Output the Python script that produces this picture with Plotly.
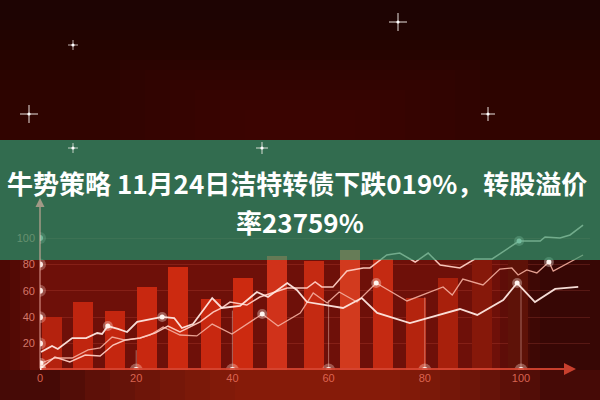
import plotly.graph_objects as go

# ---------------- data ----------------
bar_x = [2.5, 8.9, 15.6, 22.2, 28.7, 35.6, 42.2, 49.3, 57.0, 64.4, 71.3, 78.2, 84.8, 91.9, 99.4]
bar_h = [40.2, 51.5, 44.7, 62.9, 78.0, 53.8, 69.7, 86.4, 82.6, 90.9, 84.0, 54.5, 69.7, 83.0, 83.0]
bar_colors = ["#b4220e", "#c0250f", "#c4260f", "#c82810", "#cc2a10", "#c82810", "#cc2a10", "#d0321a",
              "#c42a12", "#d23a1e", "#c42a12", "#b4240e", "#a8200c", "#86180a", "#5e1208"]

line_x_x = [0.2, 2.5, 3.7, 6.7, 9.6, 11.9, 12.9, 14.1, 16.2, 18.1, 20.2, 25.4, 27.9, 29.5, 31.8, 35.8,
            37.8, 41.6, 45.1, 47.4, 51.4, 53.4, 55.5, 63.0, 66.9, 70.1, 76.9, 80.5, 87.3, 90.9, 96.3,
            99.2, 102.9, 107.1, 111.9]
line_x_y = [13.6, 18.2, 15.9, 24.2, 24.2, 28.0, 27.3, 33.3, 31.1, 28.8, 36.4, 40.2, 39.4, 31.8, 34.8, 54.5,
            47.0, 48.5, 59.1, 55.3, 65.9, 60.6, 51.5, 47.0, 54.5, 43.2, 35.6, 39.4, 46.2, 41.7, 53.0,
            65.9, 51.5, 61.4, 62.9]
line_x_dots = [0, 0, 0, 0, 0, 0, 0, 1, 0, 0, 0, 1, 0, 0, 0, 0,
               0, 0, 0, 0, 0, 0, 0, 0, 0, 0, 0, 0, 0, 0, 0,
               1, 0, 0, 0]

line_y_x = [0.2, 3.1, 6.2, 9.4, 12.5, 15.2, 17.7, 20.8, 23.9, 26.6, 29.1, 33.3, 36.0, 37.8, 39.5, 43.0,
            45.7, 51.4, 55.5, 57.2, 58.6, 60.9, 63.8, 67.2, 68.6, 71.1, 72.1, 74.8, 78.0, 80.7, 83.2,
            87.3, 90.4, 94.0, 99.6, 104.0, 105.0, 108.1, 110.2, 112.9]
line_y_y = [1.5, 9.8, 6.1, 11.4, 10.6, 18.9, 22.7, 24.2, 28.0, 33.3, 28.8, 36.4, 43.9, 47.0, 51.5, 49.2,
            55.3, 62.1, 62.1, 66.7, 62.9, 62.9, 75.0, 77.3, 77.3, 84.8, 87.1, 88.6, 81.8, 88.6, 79.5,
            77.3, 84.1, 84.1, 97.7, 97.7, 100.8, 100.0, 102.3, 109.8]
line_y_dots = [1] + [0] * 33 + [1] + [0] * 5

line_z_x = [0.2, 3.1, 6.7, 10.0, 12.5, 15.0, 17.7, 20.8, 22.9, 25.6, 29.1, 32.6, 35.8, 39.9, 46.2, 49.5,
            54.1, 56.8, 59.7, 62.2, 65.9, 69.9, 76.3, 83.8, 85.7, 87.9, 92.1, 95.6, 98.1, 99.4, 101.2,
            103.3, 105.8, 106.7, 112.9]
line_z_y = [5.3, 9.1, 9.1, 15.2, 16.7, 25.0, 22.7, 24.2, 26.5, 32.6, 26.5, 25.8, 34.8, 27.3, 42.4, 33.3,
            43.2, 58.3, 50.8, 59.1, 51.5, 65.9, 52.3, 62.9, 56.8, 68.9, 64.4, 76.5, 77.3, 72.0, 75.8,
            73.5, 81.8, 75.0, 87.1]
line_z_dots = [1] + [0] * 13 + [1] + [0] * 6 + [1] + [0] * 10 + [1, 0, 0]

y_ticks = [20, 40, 60, 80, 100]
y_ticktext = ["20", "40", "60", "80", "100"]
x_ticks = [0, 20, 40, 60, 80, 100]
x_ticktext = ["0", "20", "40", "60", "80", "100"]
drop_heights = [15, 45, 53, 55, 63]

title_line1 = "牛势策略 11月24日洁特转债下跌019%，转股溢价"
title_line2 = "率23759%"

# ---------------- geometry helpers (decoration only) ----------------
W, H = 600, 400
def px(x):
    return x / W
def py(y):
    return 1 - y / H

X_MAX = 550 / 4.81
Y_MAX = 370 / 1.32

fig = go.Figure()

# bars
fig.add_trace(go.Bar(x=bar_x, y=bar_h, width=4.2, marker=dict(color=bar_colors, line=dict(width=0)),
                     hoverinfo="skip", showlegend=False))

# drop lines from x ticks
for xt, hgt in zip(x_ticks[1:], drop_heights):
    fig.add_trace(go.Scatter(x=[xt, xt], y=[0, hgt], mode="lines",
                             line=dict(color="rgba(255,210,200,0.45)", width=1),
                             hoverinfo="skip", showlegend=False))

def add_line(xs, ys, dots, color, width):
    fig.add_trace(go.Scatter(x=xs, y=ys, mode="lines", line=dict(color=color, width=width),
                             hoverinfo="skip", showlegend=False))
    dx = [a for a, d in zip(xs, dots) if d]
    dy = [b for b, d in zip(ys, dots) if d]
    fig.add_trace(go.Scatter(x=dx, y=dy, mode="markers",
                             marker=dict(size=10, color="rgba(255,235,225,0.35)"),
                             hoverinfo="skip", showlegend=False))
    fig.add_trace(go.Scatter(x=dx, y=dy, mode="markers",
                             marker=dict(size=5, color="rgba(255,245,240,1)"),
                             hoverinfo="skip", showlegend=False))

add_line(line_z_x, line_z_y, line_z_dots, "rgba(245,175,160,0.9)", 1.3)
add_line(line_y_x, line_y_y, line_y_dots, "rgba(255,205,195,0.95)", 1.5)
add_line(line_x_x, line_x_y, line_x_dots, "rgba(255,232,225,0.95)", 1.8)

# glowing tick dots on the axes
fig.add_trace(go.Scatter(x=[0] * len(y_ticks), y=y_ticks, mode="markers",
                         marker=dict(size=12, color="rgba(255,220,210,0.3)"), hoverinfo="skip", showlegend=False))
fig.add_trace(go.Scatter(x=[0] * len(y_ticks), y=y_ticks, mode="markers",
                         marker=dict(size=6, color="rgba(255,240,235,0.95)"), hoverinfo="skip", showlegend=False))
fig.add_trace(go.Scatter(x=x_ticks, y=[0] * len(x_ticks), mode="markers",
                         marker=dict(size=13, color="rgba(255,220,210,0.35)"), hoverinfo="skip", showlegend=False))
fig.add_trace(go.Scatter(x=x_ticks, y=[0] * len(x_ticks), mode="markers",
                         marker=dict(size=6, color="rgba(255,245,240,1)"), hoverinfo="skip", showlegend=False))

shapes = []
def rect(x0, y0, x1, y1, color, layer="below"):
    shapes.append(dict(type="rect", xref="paper", yref="paper", x0=px(x0), x1=px(x1), y0=py(y1), y1=py(y0),
                       fillcolor=color, line=dict(width=0), layer=layer))

# background: soft gradient in the dark upper area
for i in range(12):
    rect(0, 20 + 10 * i, 600, 140, "rgba(70,10,6,0.07)")
for i in range(6):
    rect(120 + 25 * i, 60 + 10 * i, 480 - 25 * i, 140, "rgba(90,14,8,0.07)")
rect(0, 140, 600, 260, "rgba(60,10,6,1)")
# chart area
rect(0, 260, 600, 370, "rgba(110,16,9,1)")
for i in range(5):
    rect(500 + 10 * i, 260, 600, 370, "rgba(30,4,3,0.2)")
for i in range(4):
    rect(0, 260, 40 - 10 * i, 370, "rgba(30,4,3,0.12)")
# bottom strip
rect(0, 370, 600, 400, "rgba(70,10,6,1)")
for i in range(8):
    rect(60 + 25 * i, 370, 540 - 20 * i, 400, "rgba(170,40,15,0.12)")

# green band overlay
rect(0, 140, 600, 260, "rgba(45,160,117,0.66)", layer="above")

# sparkles
def sparkle(x, y, s, a=0.9):
    c = f"rgba(255,250,245,{a})"
    shapes.append(dict(type="line", xref="paper", yref="paper", x0=px(x - s), x1=px(x + s), y0=py(y), y1=py(y),
                       line=dict(color=c, width=1)))
    shapes.append(dict(type="line", xref="paper", yref="paper", x0=px(x), x1=px(x), y0=py(y - s), y1=py(y + s),
                       line=dict(color=c, width=1)))
    shapes.append(dict(type="circle", xref="paper", yref="paper", x0=px(x - 1.6), x1=px(x + 1.6),
                       y0=py(y + 1.6), y1=py(y - 1.6), fillcolor="white", line=dict(width=0)))

sparkle(398, 22, 9)
sparkle(73, 45, 5, 0.7)
sparkle(29, 114, 9)
sparkle(488, 114, 7)
sparkle(73, 148, 5, 0.7)
sparkle(262, 148, 6, 0.8)

annotations = [
    # axis arrows
    dict(xref="paper", yref="paper", x=px(40), y=py(198), ax=0, ay=172, text="", showarrow=True,
         arrowhead=2, arrowsize=1.2, arrowwidth=1.5, arrowcolor="rgba(255,190,180,0.55)"),
    dict(xref="paper", yref="paper", x=px(576), y=py(369), ax=-536, ay=0, text="", showarrow=True,
         arrowhead=2, arrowsize=1.2, arrowwidth=2, arrowcolor="rgba(215,70,50,0.9)"),
    # title
    dict(xref="paper", yref="paper", x=px(297), y=py(182), text=f"<b>{title_line1}</b>", showarrow=False,
         font=dict(family="Noto Sans CJK SC", size=26, color="white"), xanchor="center", yanchor="middle"),
    dict(xref="paper", yref="paper", x=px(300), y=py(221), text=f"<b>{title_line2}</b>", showarrow=False,
         font=dict(family="Noto Sans CJK SC", size=26, color="white"), xanchor="center", yanchor="middle"),
]

fig.update_layout(
    width=W, height=H, margin=dict(l=0, r=0, t=0, b=0),
    paper_bgcolor="rgb(30,4,3)", plot_bgcolor="rgba(0,0,0,0)",
    bargap=0, showlegend=False, shapes=shapes, annotations=annotations,
    xaxis=dict(domain=[40 / W, 590 / W], range=[0, X_MAX], tickvals=x_ticks, ticktext=x_ticktext,
               showgrid=False, zeroline=False, showline=False, ticks="", automargin=False,
               tickfont=dict(family="Liberation Sans", size=11, color="rgba(230,110,90,0.9)")),
    yaxis=dict(domain=[30 / H, 1], range=[0, Y_MAX], tickvals=y_ticks, ticktext=y_ticktext,
               showgrid=True, gridcolor="rgba(255,120,100,0.16)", gridwidth=1,
               zeroline=False, showline=False, ticks="", automargin=False, ticklabelstandoff=4,
               tickfont=dict(family="Liberation Sans", size=11, color="rgba(235,140,125,0.85)")),
)

fig.write_html("out.html", config={"displayModeBar": False}, post_script="document.body.style.margin='0';")
